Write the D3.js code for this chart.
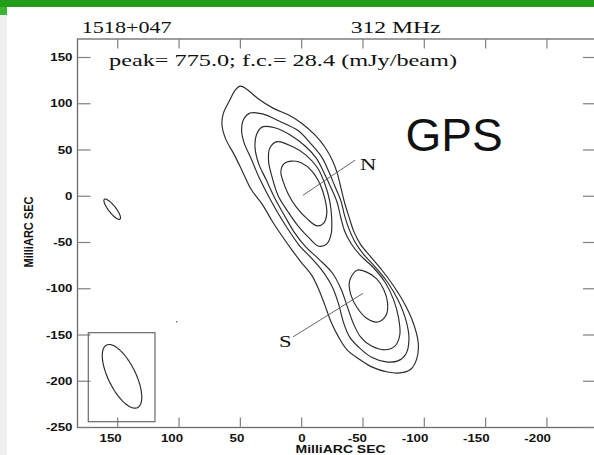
<!DOCTYPE html>
<html>
<head>
<meta charset="utf-8">
<script src="https://cdn.jsdelivr.net/npm/d3@7"></script>
<style>
  html, body { margin: 0; padding: 0; background: #fff; }
  svg { display: block; }
</style>
</head>
<body>
<svg id="map" width="594" height="455"></svg>
<script>
// ---- map annotations ----
const sourceName = "1518+047";
const frequency = "312 MHz";
const mapInfo = "peak= 775.0; f.c.= 28.4 (mJy/beam)";
const classLabel = "GPS";
const axisTitle = "MilliARC SEC";

// ---- axes (milliarcseconds; RA offset increases to the left) ----
const xDomain = [182.8, -240];
const yDomain = [-250, 170];
const xTicks = [150, 100, 50, 0, -50, -100, -150, -200];
const yTicks = [150, 100, 50, 0, -50, -100, -150, -200, -250];

// ---- contour outlines [RA offset, Dec offset] in mas, lowest level first ----
const contourLevel1 = [
  [50,119],[45,116],[36,106],[23,95],[11,88],[0,79],[-11,66],[-19,53],[-25,39],[-29,25],
  [-32,9],[-35,-7],[-38.5,-22],[-42.5,-38],[-48,-52],[-56,-65],[-65.5,-80],[-75,-97],
  [-84,-116.5],[-91,-137],[-95,-158],[-94,-175],[-89,-187],[-80,-191],[-70,-190],[-58,-185],
  [-48,-177],[-37,-166],[-30,-152],[-24,-136],[-19,-118],[-14,-101],[-8,-85],[0,-72],[8,-58],
  [16,-43],[24,-27],[32,-9],[41,7],[48,26],[55,45],[62,62],[65,77],[64,89],[59,103],[54,115]
];
const contourLevel2 = [
  [42,90],[32,89],[18,81],[3,71],[-8,56],[-16.5,42],[-22,27],[-27,11],[-32,-5],[-35,-21],
  [-38.5,-35],[-43.5,-49.5],[-50,-62],[-60,-76.5],[-70,-93],[-78.5,-112],[-85,-134],
  [-87.5,-154],[-85,-170.5],[-78.5,-178],[-69,-179],[-57,-174],[-48,-165],[-39,-152],
  [-34,-136],[-30,-116],[-25,-98],[-17,-81],[-8,-67],[2,-53],[11,-36],[19,-19],[27,0],
  [35,21],[41,40],[47,58],[49,72],[47,84]
];
const contourLevel3 = [
  [32,75],[22,74],[9,66],[-3,54],[-12,41],[-18,26],[-24,9],[-29,-7],[-32,-23.5],[-35,-37.5],
  [-40,-50.5],[-47.5,-63.5],[-58,-76.5],[-68,-93],[-75,-112],[-79,-131.5],[-80,-150],
  [-76,-162],[-68,-166],[-57,-162],[-48,-152],[-42,-137],[-37,-118.5],[-32,-100],[-25,-83],
  [-14,-68],[-3.5,-55],[6,-39],[14,-21],[22,-2],[29,18],[35,35],[38,52],[37,66]
];
const contourLevel4N = [
  [20,59],[8,54],[-3.5,44.5],[-13,30.5],[-19,13],[-23,-6],[-24.5,-24.5],[-24,-41],
  [-20.5,-51.5],[-14,-54],[-6,-45],[3,-32],[11,-17],[19,0],[24,20],[27,38],[26,52]
];
const contourLevel5N = [
  [8,38],[0,36],[-8.5,27],[-15,13],[-19,-3],[-20.5,-18],[-18,-29],[-12.5,-32],[-4.5,-24.5],
  [4.5,-11.5],[11,2.5],[15,15.5],[17,26],[14.5,35]
];
const contourLevel4S = [
  [-45,-80],[-53,-82],[-61,-89],[-67,-101],[-70,-115],[-69,-128],[-62,-136],[-53,-132],
  [-45,-120],[-40,-106],[-39,-92]
];
const contours = [contourLevel1, contourLevel2, contourLevel3, contourLevel4N, contourLevel5N, contourLevel4S];

// isolated lowest-level blob west of the source, and a single-pixel speck
const noiseBlob = { x: 154.5, y: -14, major: 25, minor: 6.4, pa: 29.5 };
const specks = [[101.9, -135.6]];

// restoring beam (full widths in mas, position angle in degrees) and its box
const beam = { x: 146.5, y: -194.7, major: 72.4, minor: 23.2, pa: 19 };
const beamBox = { x0: 174, x1: 119.6, y0: -147.5, y1: -243.7 };

// component labels: leader line from the component to the letter
const components = [
  { name: "N", from: [-1, 1], to: [-43.5, 39], text: [-47.5, 28.4], anchor: "start" },
  { name: "S", from: [-50, -105], to: [7, -152], text: [8.2, -162.6], anchor: "end" }
];

// ---- drawing ----
const svg = d3.select("#map");
const W = 594, H = 455;
const frame = { left: 77.5, right: 596, top: 39, bottom: 427.5 };
const x = d3.scaleLinear().domain(xDomain).range([frame.left, frame.right]);
const y = d3.scaleLinear().domain(yDomain).range([frame.bottom, frame.top]);
const SX = 1.33; // the plotted page is wider than tall; lettering is stretched to match

// page chrome
svg.append("rect").attr("x", 0).attr("y", 0).attr("width", W).attr("height", H).attr("fill", "#fff");
svg.append("rect").attr("x", 0).attr("y", 0).attr("width", W).attr("height", 7).attr("fill", "#229c19");
svg.append("rect").attr("x", 0).attr("y", 7).attr("width", 7).attr("height", 8).attr("fill", "#3db42f");
svg.append("rect").attr("x", 0).attr("y", 15).attr("width", 7).attr("height", H - 15).attr("fill", "#efefef");

function stretched(parent, str, px, py, opts) {
  return parent.append("text")
    .attr("transform", `translate(${px},${py}) scale(${opts.sx || SX},1)`)
    .attr("font-family", opts.family || "'Liberation Sans', Arial, sans-serif")
    .attr("font-size", opts.size || 10)
    .attr("font-weight", opts.weight || "normal")
    .attr("text-anchor", opts.anchor || "start")
    .attr("fill", opts.fill || "#111")
    .text(str);
}

// frame
const gAxes = svg.append("g");
gAxes.append("rect")
  .attr("x", frame.left).attr("y", frame.top)
  .attr("width", frame.right - frame.left).attr("height", frame.bottom - frame.top)
  .attr("fill", "none").attr("stroke", "#6a6a6a").attr("stroke-width", 1.3);

// inward ticks on all four sides
const tickColor = "#808080";
xTicks.forEach(v => {
  gAxes.append("line").attr("x1", x(v)).attr("x2", x(v)).attr("y1", frame.top).attr("y2", frame.top + 9.5)
    .attr("stroke", tickColor).attr("stroke-width", 1.2);
  gAxes.append("line").attr("x1", x(v)).attr("x2", x(v)).attr("y1", frame.bottom).attr("y2", frame.bottom - 10)
    .attr("stroke", tickColor).attr("stroke-width", 1.2);
  stretched(gAxes, String(v), x(v) + 4, 441.5, { size: 10, weight: "bold", anchor: "end" });
});
yTicks.forEach(v => {
  gAxes.append("line").attr("x1", frame.left).attr("x2", frame.left + 13).attr("y1", y(v)).attr("y2", y(v))
    .attr("stroke", tickColor).attr("stroke-width", 1.2);
  gAxes.append("line").attr("x1", frame.right).attr("x2", frame.right - 13).attr("y1", y(v)).attr("y2", y(v))
    .attr("stroke", tickColor).attr("stroke-width", 1.2);
  stretched(gAxes, String(v), 72.5, y(v) + 3.6, { size: 10, weight: "bold", anchor: "end" });
});

// axis titles
gAxes.append("text")
  .attr("x", 340.6).attr("y", 452.5)
  .attr("font-family", "'Liberation Sans', Arial, sans-serif").attr("font-weight", "bold")
  .attr("font-size", 10).attr("text-anchor", "middle").attr("fill", "#111")
  .attr("textLength", 90).attr("lengthAdjust", "spacingAndGlyphs")
  .text(axisTitle);
gAxes.append("text")
  .attr("transform", "translate(33.3,232) rotate(-90) scale(1,1.33)")
  .attr("font-family", "'Liberation Sans', Arial, sans-serif").attr("font-weight", "bold")
  .attr("font-size", 10).attr("text-anchor", "middle").attr("fill", "#111")
  .attr("textLength", 71).attr("lengthAdjust", "spacingAndGlyphs")
  .text(axisTitle);

// headings
const serif = "'Liberation Serif', 'Times New Roman', serif";
function fitted(str, left, baseline, size, width, family) {
  svg.append("text")
    .attr("x", left).attr("y", baseline)
    .attr("font-family", family).attr("font-size", size).attr("fill", "#111")
    .attr("textLength", width).attr("lengthAdjust", "spacingAndGlyphs")
    .text(str);
}
fitted(sourceName, 81.7, 33.3, 17.5, 90, serif);
fitted(frequency, 350.7, 33.3, 17.5, 90, serif);
fitted(mapInfo, 109, 66, 17, 348, serif);
svg.append("text")
  .attr("x", 405.5).attr("y", 151)
  .attr("font-family", "'Liberation Sans', Arial, sans-serif").attr("font-size", 46).attr("fill", "#111")
  .text(classLabel);

// contours
const line = d3.line().x(d => x(d[0])).y(d => y(d[1])).curve(d3.curveCatmullRomClosed.alpha(0.5));
const gMap = svg.append("g");
gMap.selectAll("path.contour").data(contours).join("path")
  .attr("class", "contour")
  .attr("d", line)
  .attr("fill", "none").attr("stroke", "#2a2a2a").attr("stroke-width", 1.15);

// ellipse outline in sky coordinates from centre, full widths and position angle
function ellipsePoints(e, n = 90) {
  const th = e.pa * Math.PI / 180, a = e.major / 2, b = e.minor / 2;
  const u = [Math.sin(th), Math.cos(th)], w = [Math.cos(th), -Math.sin(th)];
  return d3.range(n).map(i => {
    const t = 2 * Math.PI * i / n;
    return [e.x + a * Math.cos(t) * u[0] + b * Math.sin(t) * w[0],
            e.y + a * Math.cos(t) * u[1] + b * Math.sin(t) * w[1]];
  });
}
gMap.append("path").datum(ellipsePoints(noiseBlob)).attr("d", line)
  .attr("fill", "none").attr("stroke", "#2a2a2a").attr("stroke-width", 1.15);
gMap.selectAll("circle.speck").data(specks).join("circle")
  .attr("class", "speck").attr("cx", d => x(d[0])).attr("cy", d => y(d[1])).attr("r", 0.8).attr("fill", "#555");

// beam
gMap.append("rect")
  .attr("x", x(beamBox.x0)).attr("y", y(beamBox.y0))
  .attr("width", x(beamBox.x1) - x(beamBox.x0)).attr("height", y(beamBox.y1) - y(beamBox.y0))
  .attr("fill", "none").attr("stroke", "#6a6a6a").attr("stroke-width", 1.2);
gMap.append("path").datum(ellipsePoints(beam)).attr("d", line)
  .attr("fill", "none").attr("stroke", "#2a2a2a").attr("stroke-width", 1.15);

// component labels
components.forEach(c => {
  gMap.append("line")
    .attr("x1", x(c.from[0])).attr("y1", y(c.from[1]))
    .attr("x2", x(c.to[0])).attr("y2", y(c.to[1]))
    .attr("stroke", "#666").attr("stroke-width", 1);
  stretched(gMap, c.name, x(c.text[0]), y(c.text[1]), { size: 17, family: serif, anchor: c.anchor });
});
</script>
</body>
</html>
